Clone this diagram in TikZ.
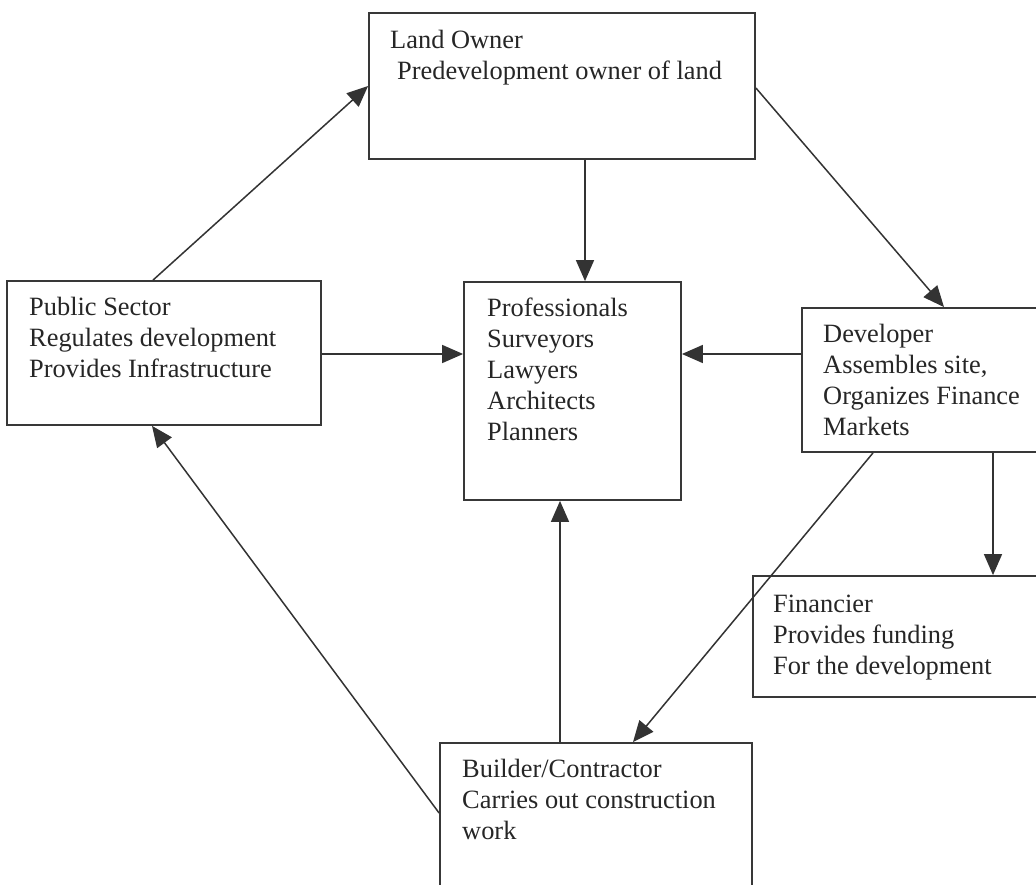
\documentclass[tikz,border=0pt]{standalone}
\usepackage{fontspec}
\setmainfont{Liberation Serif}
\usetikzlibrary{arrows.meta,calc}
\begin{document}
\begin{tikzpicture}[x=1pt,y=-1pt,
  box/.style={draw=black!78,line width=1.8pt,rectangle,inner sep=0pt},
  lbl/.style={anchor=north west,inner sep=0pt,align=left,text=black!85,
    font=\fontsize{26.4}{31}\selectfont},
  conn/.style={draw=black!80,line width=1.5pt,-{Triangle[length=21pt,width=18pt]}}]
\clip (0,0) rectangle (1036,885);
\fill[white] (0,0) rectangle (1036,885);
% boxes
\node[box,minimum width=386pt,minimum height=146pt] (land) at (562,86) {};
\node[box,minimum width=314pt,minimum height=144pt] (pub) at (164,353) {};
\node[box,minimum width=217pt,minimum height=218pt] (prof) at (572.5,391) {};
\node[box,minimum width=258pt,minimum height=144pt] (dev) at (931,380) {};
\node[box,minimum width=307pt,minimum height=121pt] (fin) at (906.5,636.5) {};
\node[box,minimum width=312pt,minimum height=157pt] (build) at (596,821.5) {};
% texts (north west = baseline - 20)
\node[lbl] (landT) at (390,28) {\rule{0pt}{20pt}Land Owner\\\hspace*{7pt}Predevelopment owner of land};
\node[lbl] (pubT) at (29,295) {\rule{0pt}{20pt}Public Sector\\Regulates development\\Provides Infrastructure};
\node[lbl] (profT) at (487,296) {\rule{0pt}{20pt}Professionals\\Surveyors\\Lawyers\\Architects\\Planners};
\node[lbl] (devT) at (823,322) {\rule{0pt}{20pt}Developer\\Assembles site,\\Organizes Finance\\Markets};
\node[lbl] (finT) at (773,592) {\rule{0pt}{20pt}Financier\\Provides funding\\For the development};
\node[lbl] (buildT) at (462,757) {\rule{0pt}{20pt}Builder/Contractor\\Carries out construction\\work};
% connectors
\draw[conn] (153,0 |- pub.north) -- (land.west |- 0,86);
\draw[conn] (585,0 |- land.south) -- (585,0 |- prof.north);
\draw[conn] (land.east |- 0,88) -- (944,0 |- dev.north);
\draw[conn] (pub.east |- 0,354) -- (prof.west |- 0,354);
\draw[conn] (dev.west |- 0,354) -- (prof.east |- 0,354);
\draw[conn] (873,0 |- dev.south) -- (633,0 |- build.north);
\draw[conn] (993,0 |- dev.south) -- (993,0 |- fin.north);
\draw[conn] (560,0 |- build.north) -- (560,0 |- prof.south);
\draw[conn] (build.west |- 0,813) -- (152,0 |- pub.south);
\end{tikzpicture}
\end{document}
